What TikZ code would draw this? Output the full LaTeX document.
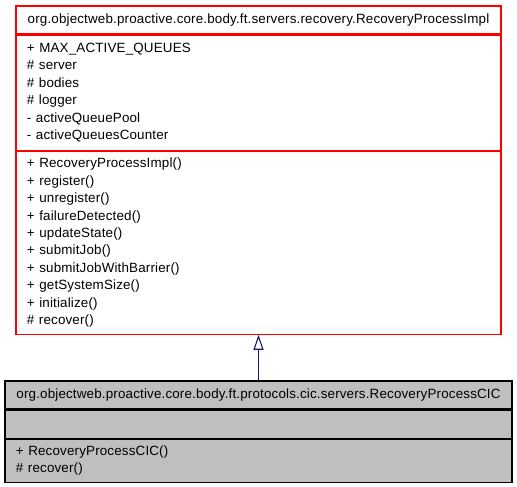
\documentclass[tikz,border=0pt]{standalone}
\usepackage{fontspec}
\setmainfont[LetterSpace=1.2]{Liberation Sans}
\usetikzlibrary{positioning,arrows.meta}
\definecolor{edgeblue}{HTML}{191970}
\definecolor{basegray}{HTML}{BFBFBF}

\begin{document}
\begin{tikzpicture}[x=1pt,y=-1pt,
    part/.style={draw,rectangle,line width=1.1pt,inner xsep=11pt,inner ysep=0pt,
        align=left,font=\fontsize{13.4}{17.4}\selectfont},
    impl/.style={part,draw=red,fill=white,text width=463pt},
    cic/.style={part,draw=black,fill=basegray,text width=485pt}]
    \useasboundingbox (0,0) rectangle (517,487);
    % base class
    \node[impl,align=center,minimum height=28pt] (implname) at (258.5,20)
        {org.objectweb.proactive.core.body.ft.servers.recovery.RecoveryProcessImpl};
    \node[impl,minimum height=115pt,below=0pt of implname] (implattr)
        {+ MAX\_ACTIVE\_QUEUES\\\# server\\\# bodies\\\# logger\\- activeQueuePool\\- activeQueuesCounter};
    \node[impl,minimum height=183pt,below=0pt of implattr] (implops)
        {+ RecoveryProcessImpl()\\+ register()\\+ unregister()\\+ failureDetected()\\+ updateState()\\+ submitJob()\\+ submitJobWithBarrier()\\+ getSystemSize()\\+ initialize()\\\# recover()};
    % derived class
    \node[cic,align=center,minimum height=28pt] (cicname) at (258.5,395)
        {org.objectweb.proactive.core.body.ft.protocols.cic.servers.RecoveryProcessCIC};
    \node[cic,minimum height=28pt,below=0pt of cicname] (cicattr) {};
    \node[cic,minimum height=43pt,below=0pt of cicattr] (cicops)
        {+ RecoveryProcessCIC()\\\# recover()};
    % inheritance
    \draw[edgeblue,line width=1.1pt,-{Triangle[open,length=15pt,width=10pt]}] (cicname.north) -- (implops.south);
\end{tikzpicture}
\end{document}
